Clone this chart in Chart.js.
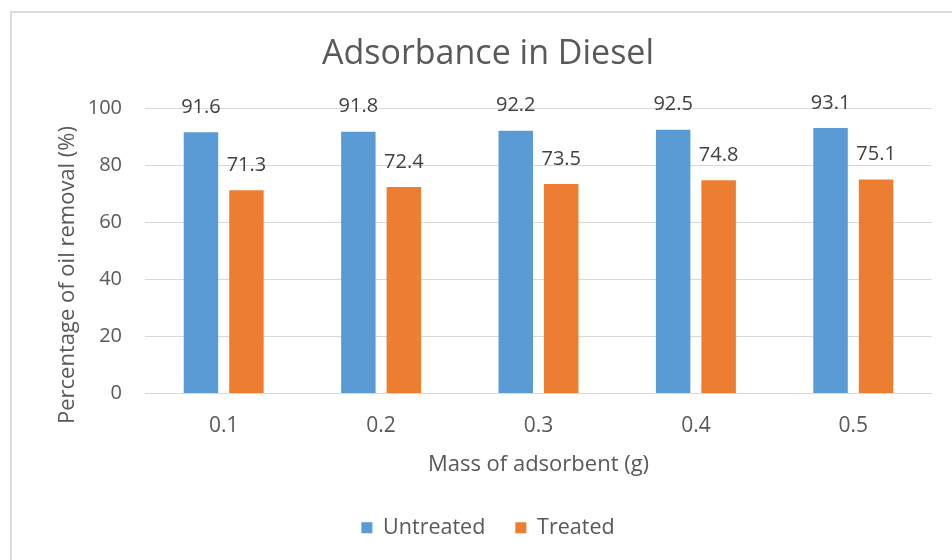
<!DOCTYPE html>
<html>
<head>
<meta charset="utf-8">
<script src="https://cdn.jsdelivr.net/npm/chart.js@4"></script>
<style>
  html, body { margin: 0; padding: 0; background: #ffffff; }
  #wrap { position: relative; width: 952px; height: 560px; }
</style>
</head>
<body>
<div id="wrap"><canvas id="chart" width="952" height="560"></canvas></div>
<script>
const masses = ['0.1', '0.2', '0.3', '0.4', '0.5'];
const untreated = [91.6, 91.8, 92.2, 92.5, 93.1];
const treated = [71.3, 72.4, 73.5, 74.8, 75.1];
const yTicks = [0, 20, 40, 60, 80, 100];

const fontFamily = '"Open Sans", "Noto Sans", sans-serif';
const textColor = '#595959';
const gridColor = '#d9d9d9';

// light frame around the chart, like the Excel chart border
const frame = {
  id: 'frame',
  beforeDraw(chart) {
    const ctx = chart.ctx;
    ctx.save();
    ctx.strokeStyle = '#dcdcdc';
    ctx.lineWidth = 2;
    ctx.strokeRect(11, 12, 2000, 2000);
    ctx.restore();
  }
};

// value labels above each bar
const barLabels = {
  id: 'barLabels',
  afterDatasetsDraw(chart) {
    const ctx = chart.ctx;
    ctx.save();
    ctx.font = '20px ' + fontFamily;
    ctx.fillStyle = '#404040';
    ctx.textAlign = 'center';
    ctx.textBaseline = 'middle';
    chart.data.datasets.forEach((ds, i) => {
      chart.getDatasetMeta(i).data.forEach((bar, j) => {
        ctx.fillText(ds.data[j].toFixed(1), bar.x, bar.y - 25);
      });
    });
    ctx.restore();
  }
};

// y axis title, centred a bit lower than the plot like the original
const yTitle = {
  id: 'yTitle',
  afterDraw(chart) {
    const ctx = chart.ctx;
    ctx.save();
    ctx.translate(68, 275);
    ctx.rotate(-Math.PI / 2);
    ctx.font = '22px ' + fontFamily;
    ctx.fillStyle = textColor;
    ctx.textAlign = 'center';
    ctx.textBaseline = 'middle';
    ctx.fillText('Percentage of oil removal (%)', 0, 0);
    ctx.restore();
  }
};

new Chart(document.getElementById('chart'), {
  type: 'bar',
  data: {
    labels: masses,
    datasets: [
      {
        label: 'Untreated',
        data: untreated,
        backgroundColor: '#5b9bd5',
        categoryPercentage: 0.578,
        barPercentage: 0.758,
      },
      {
        label: 'Treated',
        data: treated,
        backgroundColor: '#ed7d31',
        categoryPercentage: 0.578,
        barPercentage: 0.758,
      },
    ],
  },
  options: {
    responsive: false,
    animation: false,
    layout: {
      padding: { left: 44, right: 20, top: 0, bottom: 11.5 },
    },
    scales: {
      y: {
        min: 0,
        max: 100,
        afterFit: (scale) => { scale.width = 101; },
        afterBuildTicks: (scale) => { scale.ticks = yTicks.map(v => ({ value: v })); },
        border: { display: false },
        grid: { color: gridColor, lineWidth: 1, drawTicks: false },
        ticks: {
          padding: 23,
          color: textColor,
          font: { family: fontFamily, size: 20 },
        },
      },
      x: {
        afterFit: (scale) => { scale.height = 93.5; },
        border: { display: false },
        grid: { display: false, drawTicks: false },
        ticks: {
          padding: 20.4,
          color: textColor,
          font: { family: fontFamily, size: 21 },
        },
        title: {
          display: true,
          text: 'Mass of adsorbent (g)',
          color: textColor,
          font: { family: fontFamily, size: 22 },
          padding: { top: 0, bottom: 9 },
        },
      },
    },
    plugins: {
      title: {
        display: true,
        text: 'Adsorbance in Diesel',
        color: textColor,
        font: { family: fontFamily, size: 34, weight: 'normal' },
        padding: { top: 33.6, bottom: 34 },
      },
      legend: {
        position: 'bottom',
        labels: {
          boxWidth: 11,
          boxHeight: 11,
          padding: 30,
          color: textColor,
          font: { family: fontFamily, size: 21.5 },
        },
      },
      tooltip: { enabled: false },
    },
  },
  plugins: [frame, barLabels, yTitle],
});
</script>
</body>
</html>
